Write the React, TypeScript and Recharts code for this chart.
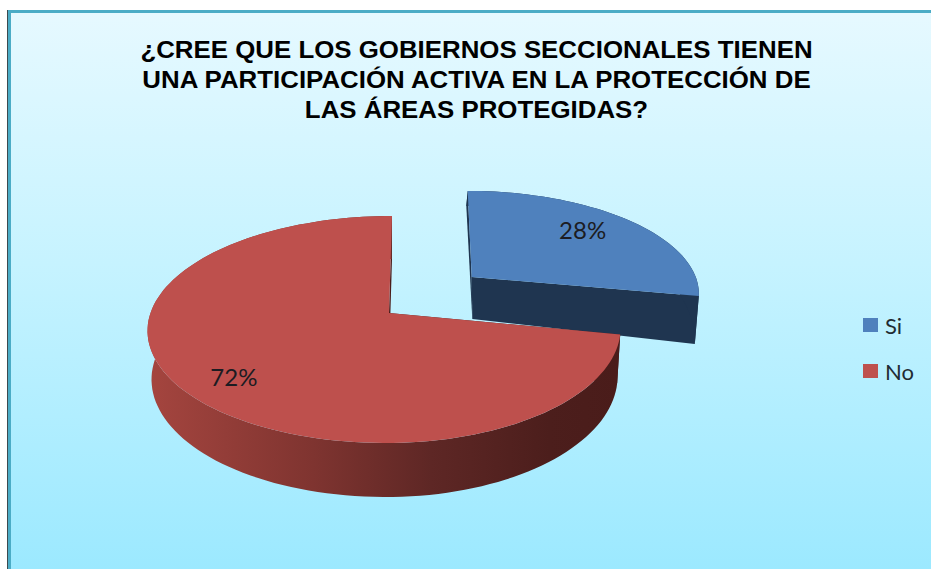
import { PieChart, Pie, Cell, Legend } from "recharts";

const TITLE_LINES = [
  "¿CREE QUE LOS GOBIERNOS SECCIONALES TIENEN",
  "UNA PARTICIPACIÓN ACTIVA EN LA PROTECCIÓN DE",
  "LAS ÁREAS PROTEGIDAS?",
];
const ANSWERS = ["Si", "No"];
const SHARES = [28, 72];
const TOP_COLORS = ["#4F81BD", "#BE504D"];

const data = ANSWERS.map((name, i) => ({ name, value: SHARES[i] }));

// Perspective of the tilted disc, one set per slice because "Si" is pulled out.
type Plane = { cx: number; cy: number; sL: number; sR: number; q: number; p: number; k: number };
const SLICE_PLANES: { top: Plane; bottom: Plane; labelR: number; labelDx: number; labelDy: number }[] = [
  {
    top: { cx: 471.7, cy: 277, sL: 224, sR: 224, q: 99, p: 0.15, k: 4 },
    bottom: { cx: 472.3, cy: 319, sL: 219, sR: 219, q: 130, p: 0.15, k: 6 },
    labelR: 0.73,
    labelDx: -5,
    labelDy: -4,
  },
  {
    top: { cx: 389, cy: 313, sL: 238.5, sR: 229.5, q: 111.1, p: 0.1453, k: -3 },
    bottom: { cx: 389, cy: 360.7, sL: 234.5, sR: 226.5, q: 116.5, p: 0.1453, k: -3 },
    labelR: 0.79,
    labelDx: 3,
    labelDy: 3,
  },
];
const WALL_FILLS = ["#1F3550", "url(#redWall)"];
const FACE_FILLS = ["#1F3550", "#4A1C1A"];

// recharts angle (counter-clockwise from 3 o'clock) to a point on the plane
function project(pl: Plane, angle: number, r = 1) {
  const a = ((90 - angle) * Math.PI) / 180;
  const u = Math.sin(a) * r;
  const v = -Math.cos(a) * r;
  const w = 1 - pl.p * v;
  const s = u < 0 ? pl.sL : pl.sR;
  return { x: pl.cx + (s * u) / w + pl.k * v, y: pl.cy + (pl.q * v) / w };
}

function arc(pl: Plane, from: number, to: number) {
  const n = Math.ceil(Math.abs(to - from) / 2);
  const pts = [];
  for (let i = 0; i <= n; i++) pts.push(project(pl, from + ((to - from) * i) / n));
  return pts;
}

const toPath = (pts: { x: number; y: number }[]) =>
  "M" + pts.map((p) => `${p.x.toFixed(1)},${p.y.toFixed(1)}`).join("L") + "Z";

function Slice3D(props: any) {
  const { startAngle, endAngle, index, fill } = props;
  const { top, bottom } = SLICE_PLANES[index];
  const topArc = arc(top, startAngle, endAngle);
  const bottomArc = arc(bottom, startAngle, endAngle);
  const apexT = { x: top.cx, y: top.cy };
  const apexB = { x: bottom.cx, y: bottom.cy };
  const face = FACE_FILLS[index];
  return (
    <g>
      <path
        d={toPath([topArc[0], apexT, apexB, bottomArc[0]])}
        fill={face}
      />
      <path
        d={toPath([
          topArc[topArc.length - 1],
          apexT,
          apexB,
          bottomArc[bottomArc.length - 1],
        ])}
        fill={face}
      />
      <path
        d={toPath([...topArc, ...[...bottomArc].reverse()])}
        fill={WALL_FILLS[index]}
      />
      <path d={toPath([apexT, ...topArc])} fill={fill} />
    </g>
  );
}

function SliceLabel(props: any) {
  const { midAngle, percent, index } = props;
  const sl = SLICE_PLANES[index];
  const pos = project(sl.top, midAngle, sl.labelR);
  return (
    <text
      x={pos.x + sl.labelDx}
      y={pos.y + sl.labelDy}
      textAnchor="middle"
      dominantBaseline="central"
      fontFamily="Lato"
      fontSize={24}
      fill="#1c1c22"
    >
      {`${Math.round(percent * 100)}%`}
    </text>
  );
}

function LegendList({ payload }: any) {
  return (
    <div style={{ display: "flex", flexDirection: "column", gap: 22 }}>
      {(payload ?? []).map((d: any) => (
        <div
          key={d.value}
          style={{
            display: "flex",
            alignItems: "center",
            gap: 7,
            height: 24,
            fontFamily: "Lato",
            fontSize: 22,
            color: "#1f2b33",
          }}
        >
          <span style={{ width: 15, height: 14, background: d.color }} />
          <span>{d.value}</span>
        </div>
      ))}
    </div>
  );
}

export default function App() {
  return (
    <div
      style={{
        position: "relative",
        width: 931,
        height: 569,
        overflow: "hidden",
        background: "#fff",
      }}
    >
      <style>{"body{margin:0}"}</style>
      <div
        style={{
          position: "absolute",
          left: 8,
          top: 10,
          right: 0,
          bottom: 0,
          borderTop: "3px solid #4BACC6",
          borderLeft: "3px solid #4BACC6",
          background: "linear-gradient(180deg,#E6F9FF 0%,#C6F3FF 45%,#9CE9FF 100%)",
          boxShadow: "-1px 0 0 #3c4a50",
        }}
      />
      <div
        style={{
          position: "absolute",
          left: 0,
          top: 35,
          width: 953,
          textAlign: "center",
          fontFamily: "Liberation Sans",
          fontWeight: "bold",
          fontSize: 23.5,
          lineHeight: "30px",
          color: "#000",
          whiteSpace: "nowrap",
          transform: "scaleX(1.1)",
          transformOrigin: "476.5px 0",
        }}
      >
        {TITLE_LINES.map((t) => (
          <div key={t}>{t}</div>
        ))}
      </div>
      <PieChart
        width={931}
        height={569}
        style={{ position: "absolute", left: 0, top: 0 }}
      >
        <defs>
          <linearGradient id="redWall" x1="0" y1="0" x2="1" y2="0">
            <stop offset="0" stopColor="#A5453F" />
            <stop offset="0.35" stopColor="#7F3430" />
            <stop offset="0.6" stopColor="#5E2725" />
            <stop offset="0.85" stopColor="#4C1E1C" />
            <stop offset="1" stopColor="#4A1C1A" />
          </linearGradient>
        </defs>
        <Pie
          data={data}
          dataKey="value"
          nameKey="name"
          cx={389}
          cy={313}
          outerRadius={230}
          startAngle={90}
          endAngle={-270}
          stroke="none"
          isAnimationActive={false}
          shape={Slice3D}
          label={SliceLabel}
          labelLine={false}
        >
          {data.map((d, i) => (
            <Cell key={d.name} fill={TOP_COLORS[i]} />
          ))}
        </Pie>
        <Legend
          content={LegendList}
          itemSorter={null}
          wrapperStyle={{ position: "absolute", left: 863, top: 313, width: 68, height: 80 }}
        />
      </PieChart>
    </div>
  );
}
